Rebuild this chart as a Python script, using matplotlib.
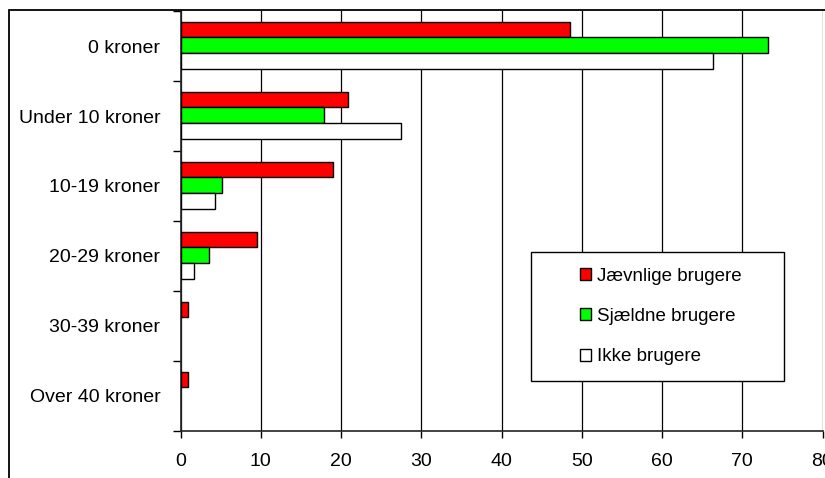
"""
plot.py

Grouped horizontal bars: share of users per price band, split by user group.
"""

import matplotlib

matplotlib.use("Agg")

import matplotlib.pyplot as plt  # noqa: E402
from matplotlib.patches import Rectangle  # noqa: E402
import numpy as np  # noqa: E402

categories = ["0 kroner", "Under 10 kroner", "10-19 kroner",
              "20-29 kroner", "30-39 kroner", "Over 40 kroner"]
series_names = ["Jævnlige brugere", "Sjældne brugere", "Ikke brugere"]
jaevnlige = [48.5, 20.9, 19.0, 9.5, 0.9, 0.9]
sjaeldne = [73.2, 17.9, 5.2, 3.6, 0.0, 0.0]
ikke = [66.3, 27.5, 4.3, 1.7, 0.0, 0.0]
x_ticks = [0, 10, 20, 30, 40, 50, 60, 70, 80]

colors = ["#ff0000", "#00ff00", "#ffffff"]

plt.rcParams["font.family"] = ["Liberation Sans", "DejaVu Sans"]
FS = 14

W, H = 825, 478
fig = plt.figure(figsize=(W / 100, H / 100), dpi=100)
ax = fig.add_axes([180.5 / W, 1 - 431 / H, 642 / W, 420 / H])

# outer chart frame (runs off the right and bottom edges)
fig.patches.append(Rectangle((8.5 / W, -0.2), 1.2, 1.2 - 9.5 / H,
                             transform=fig.transFigure, fill=False,
                             edgecolor="black", linewidth=1.3, zorder=0))

y = np.arange(len(categories))
h = 0.225
for i, (vals, col, name) in enumerate(zip([jaevnlige, sjaeldne, ikke], colors, series_names)):
    # zero-length bars get no outline, so no stray line sits on the axis
    lws = [1.0 if v > 0 else 0.0 for v in vals]
    ax.barh(y + (i - 1) * h - 0.01, vals, height=h, color=col, edgecolor="black",
            linewidth=lws, label=name, zorder=3)

ax.set_xlim(0, 80)
ax.set_ylim(len(categories) - 0.5, -0.5)
ax.set_xticks(x_ticks)
ax.set_xticklabels([str(t) for t in x_ticks], fontsize=FS)
ax.tick_params(axis="x", length=5, width=1, pad=11, color="black")

ax.set_yticks(np.arange(len(categories) + 1) - 0.5)
ax.set_yticklabels([])
ax.set_yticks(y, minor=True)
ax.set_yticklabels(categories, minor=True, fontsize=FS)
ax.tick_params(axis="y", which="major", length=6, width=1, direction="out")
ax.tick_params(axis="y", which="minor", length=0, pad=14.5)

ax.grid(axis="x", color="black", linewidth=0.9, zorder=1)
ax.set_axisbelow(True)
for s in ["top", "right"]:
    ax.spines[s].set_visible(False)
for s in ["left", "bottom"]:
    ax.spines[s].set_linewidth(1.2)
    ax.spines[s].set_color("#222222")

# legend box drawn separately so the padding matches the original
ax.add_patch(Rectangle((0.546, 0.119), 0.394, 0.307, transform=ax.transAxes,
                       facecolor="white", edgecolor="black", linewidth=1.0,
                       zorder=5))
leg = ax.legend(loc="center left", bbox_to_anchor=(0.622, 0.2726),
                frameon=False, fontsize=13.5, handlelength=0.6, handleheight=0.6,
                handletextpad=0.3, labelspacing=1.25, borderpad=0,
                borderaxespad=0)
leg.set_zorder(6)

fig.savefig("out.png", dpi=100)
plt.close(fig)
